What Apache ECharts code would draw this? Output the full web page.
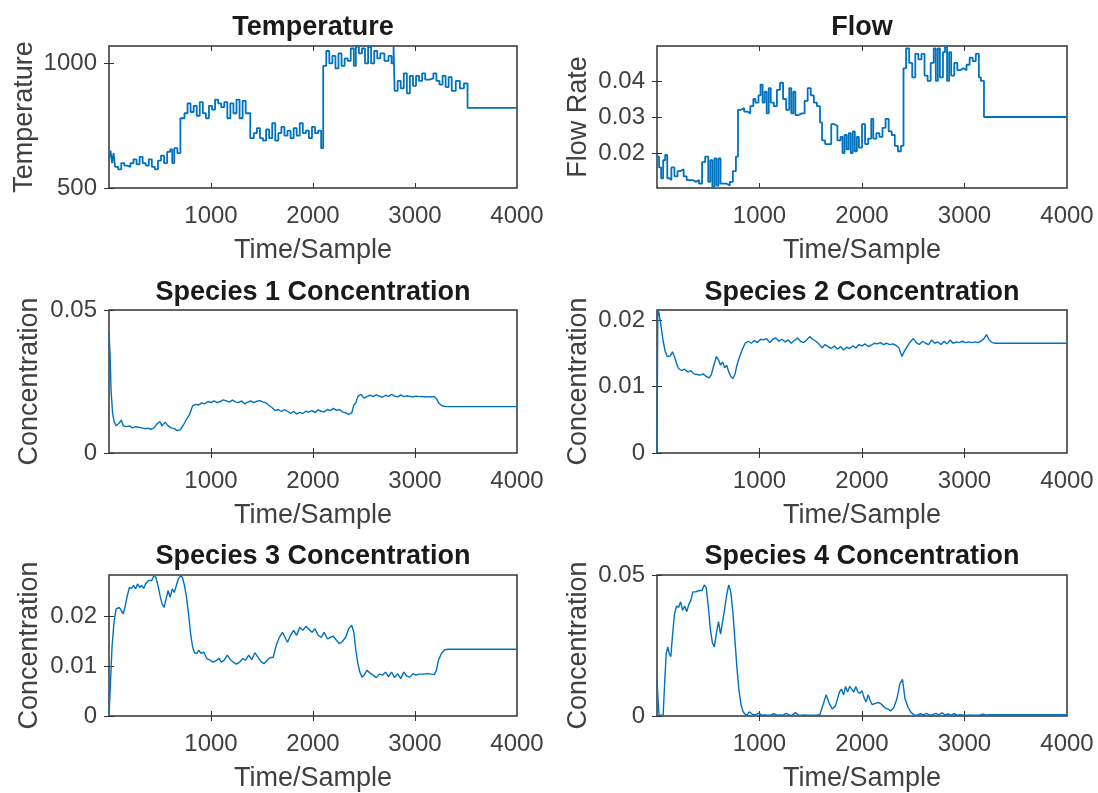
<!DOCTYPE html>
<html><head><meta charset="utf-8">
<script src="https://cdn.jsdelivr.net/npm/echarts@6/dist/echarts.min.js"></script>
<style>html,body{margin:0;padding:0;background:#fff}#c{width:1098px;height:793px}</style>
</head><body><div id="c"></div>
<script>
// ---------- DATA ----------
const xTicks = [1000, 2000, 3000, 4000];
const xTickLabels = ['1000', '2000', '3000', '4000'];

const tempTicks = [500, 1000];
const tempTickLabels = ['500', '1000'];
const flowTicks = [0.02, 0.03, 0.04];
const flowTickLabels = ['0.02', '0.03', '0.04'];
const sp1Ticks = [0, 0.05];
const sp1TickLabels = ['0', '0.05'];
const sp2Ticks = [0, 0.01, 0.02];
const sp2TickLabels = ['0', '0.01', '0.02'];
const sp3Ticks = [0, 0.01, 0.02];
const sp3TickLabels = ['0', '0.01', '0.02'];
const sp4Ticks = [0, 0.05];
const sp4TickLabels = ['0', '0.05'];

const temperature = [[0,620],[15,650],[30,600],[45,640],[60,585],[90,575],[120,600],[150,590],[180,585],[210,600],[240,615],[270,595],[300,625],[330,600],[360,590],[390,615],[420,585],[450,575],[480,610],[510,630],[540,600],[570,645],[600,655],[620,600],[640,660],[670,640],[700,780],[740,800],[770,840],[800,805],[830,830],[860,790],[890,845],[920,800],[950,780],[980,830],[1010,815],[1040,855],[1070,840],[1100,825],[1130,845],[1160,780],[1190,840],[1220,800],[1250,855],[1280,780],[1310,850],[1340,800],[1385,700],[1420,720],[1450,740],[1480,700],[1510,690],[1540,735],[1570,700],[1600,760],[1630,690],[1660,720],[1690,745],[1720,710],[1750,730],[1780,700],[1810,740],[1840,710],[1870,760],[1900,720],[1930,730],[1960,700],[1990,745],[2020,720],[2050,730],[2080,660],[2100,990],[2130,1050],[2160,1000],[2190,1030],[2220,980],[2250,1040],[2280,990],[2310,1020],[2340,1010],[2370,1060],[2400,990],[2420,1068],[2450,1040],[2480,1060],[2510,1000],[2540,1066],[2570,1000],[2600,1050],[2630,1020],[2660,1040],[2700,1010],[2740,1030],[2770,1000],[2790,1068],[2800,890],[2830,930],[2860,900],[2890,960],[2920,880],[2950,950],[2980,910],[3010,950],[3040,930],[3070,960],[3100,935],[3140,940],[3180,960],[3210,930],[3240,915],[3270,950],[3300,905],[3330,945],[3360,890],[3400,930],[3440,900],[3480,920],[3515,822],[4000,822]];

const flow = [[0,0.019],[20,0.016],[40,0.013],[60,0.018],[80,0.0195],[100,0.013],[120,0.0125],[140,0.016],[170,0.0135],[200,0.015],[230,0.0155],[260,0.0135],[290,0.0125],[320,0.0125],[350,0.012],[380,0.0125],[410,0.0115],[440,0.0175],[470,0.019],[500,0.012],[520,0.018],[540,0.0105],[560,0.0185],[580,0.011],[600,0.0185],[620,0.0115],[650,0.0115],[680,0.011],[710,0.012],[740,0.015],[770,0.019],[790,0.032],[820,0.0325],[850,0.0315],[880,0.031],[910,0.033],[940,0.035],[960,0.034],[990,0.036],[1010,0.039],[1030,0.034],[1050,0.037],[1070,0.031],[1090,0.038],[1110,0.034],[1140,0.033],[1170,0.0375],[1200,0.0395],[1230,0.035],[1260,0.032],[1290,0.038],[1310,0.031],[1330,0.037],[1350,0.0305],[1380,0.031],[1410,0.031],[1440,0.0345],[1470,0.038],[1500,0.036],[1530,0.034],[1560,0.033],[1590,0.0285],[1610,0.0235],[1640,0.0225],[1670,0.0225],[1700,0.028],[1730,0.0275],[1760,0.0235],[1790,0.0245],[1810,0.020],[1830,0.025],[1850,0.021],[1870,0.0255],[1890,0.020],[1910,0.026],[1930,0.0205],[1950,0.0245],[1970,0.0215],[2000,0.028],[2030,0.0225],[2060,0.024],[2090,0.0295],[2110,0.024],[2140,0.0255],[2170,0.0245],[2200,0.027],[2230,0.0295],[2260,0.026],[2290,0.025],[2320,0.022],[2350,0.0205],[2380,0.022],[2405,0.0435],[2430,0.049],[2460,0.045],[2490,0.041],[2520,0.0475],[2550,0.046],[2580,0.0475],[2610,0.0415],[2640,0.040],[2670,0.045],[2700,0.049],[2720,0.040],[2740,0.049],[2760,0.041],[2790,0.048],[2810,0.0495],[2830,0.040],[2850,0.048],[2870,0.0415],[2900,0.045],[2930,0.043],[2960,0.0435],[2990,0.043],[3020,0.0445],[3050,0.0465],[3080,0.0455],[3110,0.0475],[3140,0.041],[3160,0.040],[3190,0.030],[4000,0.030]];

const species1 = [[0,0.042],[10,0.035],[20,0.022],[35,0.014],[50,0.011],[70,0.0095],[100,0.0105],[120,0.0115],[140,0.0095],[170,0.0092],[200,0.0095],[230,0.0088],[260,0.0092],[290,0.009],[320,0.0088],[350,0.0085],[380,0.0087],[410,0.0083],[440,0.0088],[470,0.0102],[500,0.011],[520,0.0095],[550,0.0108],[580,0.0095],[610,0.0088],[640,0.0085],[670,0.0078],[700,0.0082],[730,0.0098],[760,0.0118],[790,0.0135],[820,0.0165],[850,0.017],[880,0.0168],[910,0.0175],[940,0.0172],[970,0.018],[1000,0.0176],[1030,0.0182],[1060,0.0176],[1090,0.018],[1120,0.0186],[1150,0.0182],[1180,0.0178],[1210,0.0185],[1240,0.0179],[1270,0.0176],[1300,0.0182],[1330,0.0172],[1360,0.0178],[1390,0.0182],[1420,0.0176],[1450,0.0181],[1480,0.0183],[1510,0.0178],[1540,0.0175],[1570,0.0166],[1600,0.0158],[1630,0.0148],[1660,0.0152],[1690,0.0145],[1720,0.0152],[1750,0.0146],[1780,0.0138],[1810,0.0146],[1840,0.0136],[1870,0.0142],[1900,0.0138],[1930,0.0146],[1960,0.0143],[1990,0.0148],[2020,0.0141],[2050,0.0151],[2080,0.0146],[2110,0.0144],[2140,0.0152],[2170,0.0148],[2200,0.0156],[2230,0.0149],[2260,0.0152],[2290,0.0144],[2320,0.014],[2350,0.0135],[2380,0.014],[2400,0.0168],[2420,0.0175],[2440,0.0198],[2470,0.0205],[2500,0.0192],[2530,0.0198],[2560,0.0202],[2590,0.0197],[2620,0.0203],[2650,0.0199],[2680,0.0195],[2710,0.0202],[2740,0.0198],[2770,0.0205],[2800,0.0199],[2830,0.0196],[2860,0.0203],[2890,0.0197],[2920,0.02],[2950,0.0198],[2980,0.0196],[3010,0.0199],[3040,0.0197],[3070,0.0198],[3100,0.0196],[3130,0.0197],[3160,0.0196],[3190,0.0197],[3210,0.019],[3230,0.0176],[3260,0.0166],[3300,0.0162],[3400,0.0162],[3500,0.0162],[4000,0.0162]];

const species2 = [[0,0],[8,0.0215],[20,0.021],[40,0.019],[60,0.0168],[80,0.0153],[100,0.0145],[130,0.0146],[150,0.0152],[170,0.0145],[190,0.0135],[210,0.0127],[240,0.0124],[270,0.0126],[300,0.0122],[330,0.0124],[360,0.0119],[390,0.0118],[420,0.0117],[450,0.0119],[480,0.0115],[510,0.0113],[530,0.0118],[560,0.0135],[580,0.0145],[600,0.014],[620,0.0132],[640,0.0137],[660,0.0128],[680,0.0132],[700,0.0122],[720,0.0115],[740,0.0112],[760,0.0118],[780,0.0132],[800,0.0142],[830,0.0155],[860,0.0165],[890,0.0168],[920,0.0165],[950,0.0169],[980,0.0166],[1010,0.0171],[1040,0.017],[1070,0.0172],[1100,0.0166],[1130,0.0171],[1160,0.0173],[1190,0.0168],[1220,0.0171],[1250,0.0167],[1280,0.017],[1310,0.0165],[1340,0.0169],[1370,0.0173],[1400,0.0168],[1430,0.0166],[1460,0.017],[1490,0.0175],[1520,0.0171],[1550,0.0168],[1580,0.0164],[1610,0.0158],[1640,0.0163],[1670,0.016],[1700,0.0157],[1730,0.0161],[1760,0.0156],[1790,0.016],[1820,0.0155],[1850,0.0159],[1880,0.0157],[1910,0.0161],[1940,0.0158],[1970,0.0163],[2000,0.0161],[2030,0.0164],[2060,0.016],[2090,0.0162],[2120,0.0165],[2150,0.0164],[2180,0.0166],[2210,0.0163],[2240,0.0165],[2270,0.0163],[2300,0.0164],[2330,0.0162],[2360,0.0158],[2390,0.0145],[2410,0.0152],[2440,0.016],[2470,0.0167],[2500,0.0172],[2530,0.0166],[2560,0.0163],[2590,0.0168],[2620,0.0165],[2650,0.0163],[2680,0.017],[2710,0.0165],[2740,0.0167],[2770,0.0163],[2800,0.0168],[2830,0.0164],[2860,0.017],[2890,0.0165],[2920,0.0167],[2950,0.0166],[2980,0.0168],[3010,0.0166],[3040,0.0167],[3070,0.0166],[3100,0.0167],[3130,0.0166],[3160,0.0168],[3190,0.0172],[3215,0.0178],[3240,0.017],[3270,0.0166],[3300,0.0165],[4000,0.0165]];

const species3 = [[0,0],[15,0.007],[30,0.014],[50,0.019],[70,0.0215],[100,0.0218],[120,0.0212],[140,0.0205],[160,0.0222],[180,0.0242],[200,0.0258],[220,0.0256],[240,0.0262],[260,0.0255],[280,0.0265],[300,0.0258],[320,0.0262],[340,0.0256],[360,0.0266],[390,0.0272],[420,0.0272],[440,0.0282],[460,0.0278],[480,0.0262],[500,0.0242],[520,0.0225],[540,0.0218],[560,0.0235],[580,0.0252],[600,0.0238],[620,0.0255],[640,0.0248],[660,0.0262],[680,0.0275],[700,0.0282],[720,0.0278],[740,0.0262],[760,0.0238],[780,0.0205],[800,0.0165],[820,0.0138],[840,0.0127],[860,0.0125],[880,0.0132],[900,0.0126],[930,0.0128],[960,0.0115],[990,0.0112],[1020,0.0108],[1050,0.0111],[1080,0.0116],[1100,0.0108],[1130,0.0112],[1160,0.0122],[1190,0.0113],[1220,0.0108],[1250,0.0104],[1280,0.0108],[1310,0.0115],[1340,0.0112],[1370,0.0122],[1400,0.0113],[1430,0.0127],[1460,0.0118],[1490,0.0109],[1520,0.0105],[1550,0.0112],[1580,0.0117],[1610,0.0118],[1640,0.0142],[1670,0.0158],[1700,0.0168],[1730,0.0156],[1750,0.0148],[1780,0.0162],[1810,0.0172],[1840,0.0162],[1870,0.0178],[1900,0.0172],[1930,0.018],[1960,0.0174],[1990,0.0168],[2020,0.0175],[2050,0.0162],[2080,0.0158],[2110,0.0168],[2140,0.0155],[2170,0.0158],[2200,0.016],[2230,0.0152],[2260,0.0145],[2290,0.015],[2320,0.0158],[2350,0.0175],[2380,0.0182],[2400,0.0168],[2420,0.0132],[2440,0.0105],[2460,0.0088],[2480,0.0078],[2500,0.0082],[2530,0.0092],[2560,0.0086],[2590,0.0082],[2620,0.0077],[2650,0.0084],[2680,0.0082],[2710,0.0088],[2740,0.0079],[2770,0.0088],[2800,0.0077],[2830,0.0085],[2860,0.0075],[2890,0.0088],[2920,0.008],[2950,0.0078],[2980,0.0085],[3010,0.0082],[3040,0.0084],[3080,0.0084],[3120,0.0085],[3160,0.0084],[3190,0.0083],[3210,0.0092],[3230,0.0112],[3260,0.0126],[3290,0.0133],[3330,0.0134],[4000,0.0134]];

const species4 = [[0,0.013],[10,0.006],[20,0.0003],[40,0.0003],[60,0.0003],[75,0.012],[90,0.022],[105,0.0245],[120,0.022],[135,0.021],[150,0.028],[170,0.036],[190,0.039],[210,0.0385],[230,0.0405],[250,0.0375],[270,0.039],[290,0.037],[310,0.0395],[330,0.041],[350,0.044],[380,0.044],[410,0.0445],[440,0.0445],[460,0.0465],[480,0.0455],[500,0.039],[520,0.031],[540,0.026],[560,0.0245],[580,0.0295],[600,0.0335],[620,0.029],[640,0.0335],[660,0.038],[680,0.043],[700,0.0465],[720,0.044],[740,0.037],[760,0.027],[780,0.017],[800,0.009],[820,0.004],[840,0.0015],[860,0.0006],[880,0.0004],[900,0.0015],[930,0.0006],[960,0.0004],[990,0.001],[1020,0.0004],[1050,0.0004],[1080,0.0003],[1110,0.0004],[1140,0.0008],[1170,0.0003],[1200,0.0004],[1230,0.0003],[1260,0.0009],[1290,0.0004],[1320,0.0003],[1350,0.0012],[1380,0.0004],[1410,0.0003],[1440,0.0004],[1470,0.0003],[1500,0.0003],[1530,0.0003],[1560,0.0003],[1590,0.0006],[1620,0.004],[1650,0.0075],[1680,0.0045],[1710,0.0025],[1740,0.0035],[1760,0.006],[1780,0.0085],[1800,0.0095],[1820,0.0075],[1840,0.0105],[1860,0.0085],[1880,0.0105],[1900,0.0095],[1920,0.0085],[1940,0.0105],[1960,0.0085],[1980,0.008],[2000,0.009],[2020,0.0065],[2040,0.005],[2060,0.0075],[2080,0.0055],[2100,0.004],[2130,0.0045],[2160,0.0048],[2190,0.0042],[2220,0.003],[2250,0.0025],[2280,0.0018],[2310,0.003],[2340,0.006],[2370,0.0115],[2395,0.013],[2420,0.006],[2450,0.003],[2480,0.0012],[2510,0.0004],[2540,0.0003],[2570,0.0008],[2600,0.0004],[2630,0.0009],[2660,0.0003],[2690,0.0005],[2720,0.0009],[2750,0.0004],[2780,0.0011],[2810,0.0004],[2840,0.0007],[2870,0.0003],[2900,0.0008],[2930,0.0003],[2960,0.0005],[2990,0.0003],[3020,0.0003],[3050,0.0004],[3080,0.0003],[3110,0.0003],[3150,0.0004],[3180,0.0006],[3210,0.0004],[3250,0.0005],[3300,0.0005],[4000,0.0005]];

// ---------- LAYOUT / STYLE ----------
const FONT = '"Liberation Sans", Arial, Helvetica, sans-serif';
const LINE = '#0072BD';
const AX = '#333333';
const TXT = '#404040';
const colLeft = [109, 657], colWidth = [408, 410];
const rowTop = [46, 310, 575], rowHeight = [142, 143, 144];
const titleTop = [14, 279, 543];

const panels = [
  {title:'Temperature', yName:'Temperature', data:temperature, yMin:500, yMax:1070, ticks:tempTicks, labels:tempTickLabels, step:'end', lw:1.8, gap:71},
  {title:'Flow', yName:'Flow Rate', data:flow, yMin:0.0103, yMax:0.0497, ticks:flowTicks, labels:flowTickLabels, step:'end', lw:1.8, gap:65},
  {title:'Species 1 Concentration', yName:'Concentration', data:species1, yMin:0, yMax:0.05, ticks:sp1Ticks, labels:sp1TickLabels, step:false, lw:1.4, gap:66},
  {title:'Species 2 Concentration', yName:'Concentration', data:species2, yMin:0, yMax:0.0215, ticks:sp2Ticks, labels:sp2TickLabels, step:false, lw:1.4, gap:65},
  {title:'Species 3 Concentration', yName:'Concentration', data:species3, yMin:0, yMax:0.0283, ticks:sp3Ticks, labels:sp3TickLabels, step:false, lw:1.4, gap:66},
  {title:'Species 4 Concentration', yName:'Concentration', data:species4, yMin:0, yMax:0.05, ticks:sp4Ticks, labels:sp4TickLabels, step:false, lw:1.4, gap:65}
];

const option = {animation:false, backgroundColor:'#fff', title:[], grid:[], xAxis:[], yAxis:[], series:[]};
const tickStyle = {show:true, inside:true, length:5, lineStyle:{color:AX, width:1}};
const labelFont = {fontFamily:FONT, fontSize:24, color:TXT, lineHeight:24};
const nameFont = {fontFamily:FONT, fontSize:27, color:TXT, lineHeight:27};

panels.forEach((p, i) => {
  const col = i % 2, row = Math.floor(i / 2);
  option.grid.push({left:colLeft[col], width:colWidth[col], top:rowTop[row], height:rowHeight[row],
    show:true, borderColor:AX, borderWidth:1.5, backgroundColor:'#fff', containLabel:false});
  option.title.push({text:p.title, left:colLeft[col] + colWidth[col] / 2, top:titleTop[row], textAlign:'center', padding:0,
    textStyle:{fontFamily:FONT, fontSize:27, fontWeight:'bold', color:'#1a1a1a', lineHeight:27}});
  const base = {type:'value', gridIndex:i, splitLine:{show:false}, axisLine:{show:false}};
  option.xAxis.push(Object.assign({}, base, {min:0, max:4000, position:'bottom',
    axisTick:Object.assign({}, tickStyle, {customValues:[1000, 2000, 3000]}),
    axisLabel:Object.assign({}, labelFont, {customValues:xTicks, margin:16,
      formatter:v => xTickLabels[xTicks.indexOf(v)] || ''}),
    name:'Time/Sample', nameLocation:'middle', nameGap:49, nameTextStyle:nameFont}));
  option.xAxis.push(Object.assign({}, base, {min:0, max:4000, position:'top',
    axisTick:Object.assign({}, tickStyle, {customValues:[1000, 2000, 3000]}), axisLabel:{show:false}}));
  option.yAxis.push(Object.assign({}, base, {min:p.yMin, max:p.yMax, position:'left',
    axisTick:Object.assign({}, tickStyle, {customValues:p.ticks}),
    axisLabel:Object.assign({}, labelFont, {customValues:p.ticks, margin:12, padding:[6,0,0,0],
      formatter:v => { const k = p.ticks.findIndex(t => Math.abs(t - v) < 1e-9); return k >= 0 ? p.labels[k] : ''; }}),
    name:p.yName, nameLocation:'middle', nameGap:p.gap, nameTextStyle:nameFont}));
  option.yAxis.push(Object.assign({}, base, {min:p.yMin, max:p.yMax, position:'right',
    axisTick:Object.assign({}, tickStyle, {customValues:p.ticks}), axisLabel:{show:false}}));
  option.series.push({type:'line', xAxisIndex:2 * i, yAxisIndex:2 * i, data:p.data, step:p.step,
    showSymbol:false, symbol:'none', smooth:false, lineStyle:{color:LINE, width:p.lw}, itemStyle:{color:LINE}, z:3});
});

const chart = echarts.init(document.getElementById('c'), null, {renderer:'canvas'});
chart.setOption(option);
</script>
</body></html>
